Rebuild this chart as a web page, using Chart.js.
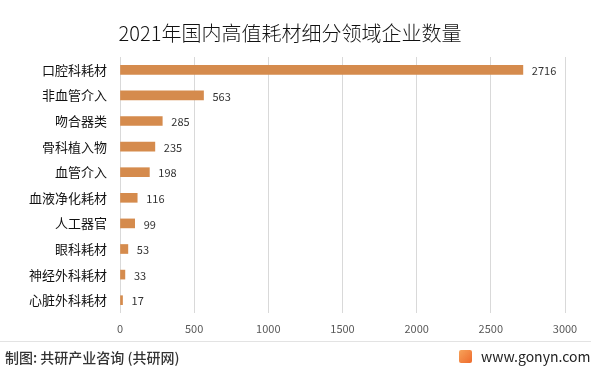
<!DOCTYPE html>
<html>
<head>
<meta charset="utf-8">
<script src="https://cdn.jsdelivr.net/npm/chart.js@4.4.0/dist/chart.umd.min.js"></script>
<style>
  html, body { margin: 0; padding: 0; background: #fff; }
  #wrap { position: relative; width: 601px; height: 374px; overflow: hidden;
          font-family: "Noto Sans CJK SC", "Microsoft YaHei", sans-serif; }
  #title { position: absolute; left: 0; width: 580px; top: 20px; text-align: center;
           font-size: 20px; color: #111; line-height: 26px; font-weight: 300; }
  #rule { position: absolute; left: 0; top: 341px; width: 591px; height: 1px; background: #e3e3e3; }
  #source { position: absolute; left: 5px; top: 348px; font-size: 14px; color: #333; line-height: 18px; font-weight: 500; }
  #site { position: absolute; left: 481px; top: 347px; font-size: 14px; color: #222; line-height: 18px; }
  #logo { position: absolute; left: 459px; top: 350px; width: 13px; height: 13px; border-radius: 2px;
          background: linear-gradient(135deg, #f7a35a, #ee6a2c); }
  canvas { position: absolute; left: 0; top: 0; }
</style>
</head>
<body>
<div id="wrap">
  <canvas id="c" width="601" height="374"></canvas>
  <div id="title">2021年国内高值耗材细分领域企业数量</div>
  <div id="rule"></div>
  <div id="source">制图: 共研产业咨询 (共研网)</div>
  <div id="logo"></div>
  <div id="site">www.gonyn.com</div>
</div>
<script>
const categories = ['口腔科耗材', '非血管介入', '吻合器类', '骨科植入物', '血管介入',
  '血液净化耗材', '人工器官', '眼科耗材', '神经外科耗材', '心脏外科耗材'];
const companyCounts = [2716, 563, 285, 235, 198, 116, 99, 53, 33, 17];
const xTicks = [0, 500, 1000, 1500, 2000, 2500, 3000];

const valueLabels = {
  id: 'valueLabels',
  afterDatasetsDraw(chart) {
    const ctx = chart.ctx;
    const meta = chart.getDatasetMeta(0);
    ctx.save();
    ctx.font = '11px "Noto Sans CJK SC", sans-serif';
    ctx.fillStyle = '#333';
    ctx.textAlign = 'left';
    ctx.textBaseline = 'middle';
    meta.data.forEach((bar, i) => {
      ctx.fillText(String(companyCounts[i]), bar.x + 9, bar.y + 1);
    });
    ctx.restore();
  }
};

new Chart(document.getElementById('c'), {
  type: 'bar',
  data: {
    labels: categories,
    datasets: [{
      data: companyCounts,
      backgroundColor: '#d58b4d',
      barThickness: 9
    }]
  },
  options: {
    indexAxis: 'y',
    responsive: false,
    animation: false,
    layout: { padding: { top: 57, right: 36, bottom: 0, left: 0 } },
    plugins: { legend: { display: false }, tooltip: { enabled: false } },
    scales: {
      x: {
        min: 0, max: 3000,
        afterBuildTicks(scale) { scale.ticks = xTicks.map(v => ({ value: v })); },
        afterFit(scale) { scale.height = 61; },
        grid: { color: '#d9d9d9', drawTicks: false },
        border: { display: false },
        ticks: {
          color: '#595959', padding: 9,
          font: { size: 11, family: '"Noto Sans CJK SC", sans-serif' },
          callback: v => String(v)
        }
      },
      y: {
        afterFit(scale) { scale.width = 120; },
        grid: { display: false, drawTicks: false },
        border: { display: false },
        ticks: { color: '#111', padding: 13, font: { size: 13, family: '"Noto Sans CJK SC", sans-serif' } }
      }
    }
  },
  plugins: [valueLabels]
});
</script>
</body>
</html>
